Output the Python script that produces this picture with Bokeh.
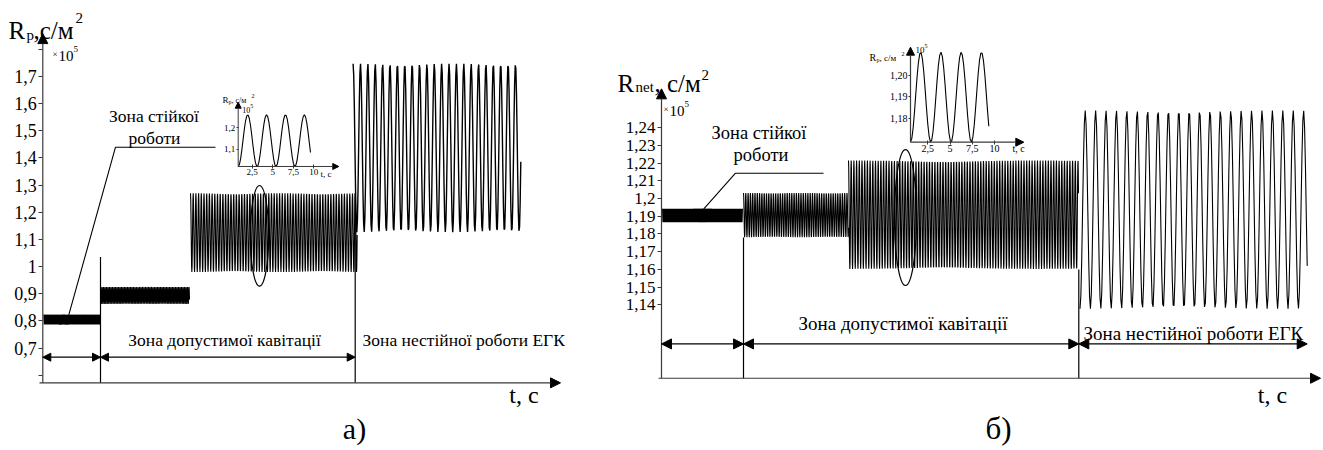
import numpy as np
from bokeh.plotting import figure
from bokeh.layouts import row
from bokeh.models import (Range1d, LinearAxis, FixedTicker, CustomJSTickFormatter,
                          Arrow, NormalHead)
from bokeh.core.properties import value
from bokeh.embed import file_html
from bokeh.resources import INLINE

FONT = "Liberation Serif"
AX = "#3a3a3a"

# ================= panel а) : R_p(t), x10^5 c/m^2 =================
A_YTICKS = [0.6, 0.7, 0.8, 0.9, 1.0, 1.1, 1.2, 1.3, 1.4, 1.5, 1.6, 1.7, 1.8]
A_YLABELS = ["", "0,7", "0,8", "0,9", "1", "1,1", "1,2", "1,3", "1,4", "1,5", "1,6", "1,7", ""]
A_AXIS_V = 0.572          # level of the time axis
A_T_MAX = 51.77           # end of time axis
A_V_MAX = 1.858           # top of R axis
A_BAND_T0 = [0.1, 5.77, 14.77, 31.03]
A_BAND_T1 = [5.77, 14.67, 31.44, 47.8]
A_BAND_MEAN = [0.805, 0.894, 1.125, 1.437]
A_BAND_AMP = [0.018, 0.031, 0.145, 0.31]
A_BAND_PERIOD = [0.1, 0.15, 0.27, 0.738]
A_BAND_PHASE = [0.0, 0.0, 0.0, 0.0]
A_BAND_LW = [1.1, 1.1, 1.1, 1.4]
A_ZONE_EDGES = [0.0, 5.77, 31.24]
A_ZONE_ARROW_V = 0.6665
A_SEP_T = [5.77, 31.24]
A_SEP_TOP = [1.035, 1.27]
A_ELLIPSE = dict(t=21.67, v=1.1134, w=1.83, h=0.371)
# inset of panel а)
AI_XTICKS = [2.5, 5.0, 7.5, 10.0]
AI_XLABELS = ["2,5", "5", "7,5", "10"]
AI_YTICKS = [1.1, 1.2]
AI_YLABELS = ["1,1", "1,2"]
AI_T0, AI_T1 = 0.8, 9.6
AI_MEAN, AI_AMP, AI_PERIOD = 1.14, 0.121, 2.3
AI_AXIS_T, AI_AXIS_V, AI_T_MAX, AI_V_MAX = 0.7955, 1.0192, 13.04, 1.3196

# ================= panel б) : R_net(t), x10^5 c/m^2 =================
B_YTICKS = [1.14, 1.15, 1.16, 1.17, 1.18, 1.19, 1.20, 1.21, 1.22, 1.23, 1.24]
B_YLABELS = ["1,14", "1,15", "1,16", "1,17", "1,18", "1,19", "1,2", "1,21", "1,22", "1,23", "1,24"]
B_AXIS_V = 1.0985
B_T_MAX = 65.9
B_V_MAX = 1.262
B_BAND_T0 = [0.1, 8.2, 18.7, 41.85]
B_BAND_T1 = [8.1, 18.7, 41.7, 64.57]
B_BAND_MEAN = [1.1905, 1.1907, 1.1909, 1.1938]
B_BAND_AMP = [0.0038, 0.0125, 0.0306, 0.056]
B_BAND_PERIOD = [0.1, 0.23, 0.27, 1.04]
B_BAND_PHASE = [0.0, 0.0, 0.0, 0.5]
B_BAND_LW = [1.1, 1.1, 1.1, 1.1]
B_ZONE_EDGES = [0.0, 8.2, 41.73, 64.57]
B_ZONE_ARROW_V = 1.1179
B_SEP_T = [8.2, 41.73]
B_SEP_TOP = [1.178, 1.160]
B_ELLIPSE = dict(t=24.4, v=1.1893, w=2.2, h=0.0768)
# inset of panel б)
BI_XTICKS = [2.5, 5.0, 7.5, 10.0]
BI_XLABELS = ["2,5", "5", "7,5", "10"]
BI_YTICKS = [1.18, 1.19, 1.20]
BI_YLABELS = ["1,18", "1,19", "1,20"]
BI_T0, BI_T1 = 0.5546, 9.36
BI_MEAN, BI_AMP, BI_PERIOD = 1.18985, 0.02105, 2.28
BI_AXIS_T, BI_AXIS_V, BI_T_MAX, BI_V_MAX = 0.5546, 1.16876, 13.295, 1.21326

ZONE_STABLE = ["Зона стійкої", "роботи"]
ZONE_CAV = "Зона допустимої кавітації"
ZONE_UNST = "Зона нестійної роботи ЕГК"


def wave(t0, t1, mean, amp, period, phase):
    n = max(int((t1 - t0) / period * 12), 60)
    t = np.linspace(t0, t1, n)
    return t, mean + amp * np.cos(2 * np.pi * ((t - t0) / period + phase))


def fmt(tick_values, tick_labels):
    return CustomJSTickFormatter(args=dict(tv=tick_values, tl=tick_labels), code="""
        for (let i = 0; i < tv.length; i++) {
            if (Math.abs(tv[i] - tick) < 1e-9) { return tl[i]; }
        }
        return "";
    """)


def make_fig(width, xr, yr, ixr, iyr):
    p = figure(width=width, height=450, x_range=Range1d(*xr), y_range=Range1d(*yr),
               x_axis_type=None, y_axis_type=None, toolbar_location=None,
               output_backend="svg", min_border=0, outline_line_color=None,
               background_fill_color="white", border_fill_color="white")
    p.extra_x_ranges = {"ix": Range1d(*ixr)}
    p.extra_y_ranges = {"iy": Range1d(*iyr)}
    return p


def add_text(p, x, y, s, size, align="left", baseline="alphabetic", xo=0, yo=0, inset=False):
    rn = ("ix", "iy") if inset else ("default", "default")
    p.text(x=[x], y=[y], text=[s], x_offset=xo, y_offset=yo, text_font=value(FONT),
           text_font_size=value(f"{size}px"), text_align=align, text_baseline=baseline,
           text_color="black", x_range_name=rn[0], y_range_name=rn[1])


def add_arrow(p, x0, y0, x1, y1, size, both=False, color=AX, width=1.2, inset=False):
    rn = ("ix", "iy") if inset else ("default", "default")

    def head():
        return NormalHead(size=size, fill_color="black", line_color="black", line_width=1)
    p.add_layout(Arrow(x_start=x0, y_start=y0, x_end=x1, y_end=y1, end=head(),
                       start=head() if both else None, line_color=color, line_width=width,
                       x_range_name=rn[0], y_range_name=rn[1]))


def add_axis(p, side, loc, ticks, labels, size, inset=False, t_out=4, t_in=0, standoff=2):
    rn = ("ix", "iy") if inset else ("default", "default")
    ax = LinearAxis(fixed_location=loc, ticker=FixedTicker(ticks=ticks), formatter=fmt(ticks, labels),
                    axis_line_color=None, major_tick_line_color=AX, major_tick_out=t_out,
                    major_tick_in=t_in, minor_tick_line_color=None, major_label_text_font=FONT,
                    major_label_text_font_size=f"{size}px", major_label_standoff=standoff,
                    major_label_text_color="black", x_range_name=rn[0], y_range_name=rn[1])
    p.add_layout(ax, side)


def draw_bands(p, t0s, t1s, means, amps, periods, phases, lws):
    for t0, t1, m, a, per, ph, lw in zip(t0s, t1s, means, amps, periods, phases, lws):
        t, v = wave(t0, t1, m, a, per, ph)
        p.line(t, v, line_color="black", line_width=lw)


# ---------------- panel а) ----------------
pa = make_fig(600, (-4.23, 55.77), (0.32298, 1.97982), (-28.145, 44.907), (-0.30794, 1.79486))
draw_bands(pa, A_BAND_T0, A_BAND_T1, A_BAND_MEAN, A_BAND_AMP, A_BAND_PERIOD, A_BAND_PHASE, A_BAND_LW)
add_axis(pa, "left", 0.0, A_YTICKS, A_YLABELS, 18)
add_arrow(pa, 0.0, A_AXIS_V, 0.0, A_V_MAX, 10)
add_arrow(pa, -0.33, A_AXIS_V, A_T_MAX, A_AXIS_V, 10)
pa.segment(x0=A_SEP_T, y0=[A_AXIS_V] * len(A_SEP_T), x1=A_SEP_T, y1=A_SEP_TOP,
           line_color="black", line_width=1.2)
for a, b in zip(A_ZONE_EDGES[:-1], A_ZONE_EDGES[1:]):
    add_arrow(pa, a, A_ZONE_ARROW_V, b, A_ZONE_ARROW_V, 8, both=True, color="black", width=1.2)
pa.ellipse(x=[A_ELLIPSE["t"]], y=[A_ELLIPSE["v"]], width=[A_ELLIPSE["w"]], height=[A_ELLIPSE["h"]],
           fill_color=None, line_color="black", line_width=1.2)
pa.line([17.27, 7.27, 2.6], [1.4397, 1.4397, 0.822], line_color="black", line_width=1.1)
add_text(pa, 11.12, 1.5564, ZONE_STABLE[0], 17.5, "center", "middle")
add_text(pa, 11.17, 1.4754, ZONE_STABLE[1], 17.5, "center", "middle")
add_text(pa, 18.17, 0.728, ZONE_CAV, 17.5, "center", "middle")
add_text(pa, 31.97, 0.728, ZONE_UNST, 17.5, "left", "middle")
add_text(pa, 48.12, 0.5255, "t, с", 24, "center", "middle")
add_text(pa, 31.17, 0.405, "а)", 30, "center", "middle")
# axis title R_p, c/m^2
add_text(pa, -3.43, 1.8694, "R", 25)
add_text(pa, -3.43, 1.8694, "p", 15, xo=18, yo=5)
add_text(pa, -3.43, 1.8694, ",с/м", 25, xo=25)
add_text(pa, -3.43, 1.8694, "2", 15, xo=67, yo=-12)
add_text(pa, 0.97, 1.7773, "×", 9, xo=0, yo=-2)
add_text(pa, 0.97, 1.7773, "10", 15, xo=6)
add_text(pa, 0.97, 1.7773, "5", 9, xo=21, yo=-7)
# inset а)
t, v = wave(AI_T0, AI_T1, AI_MEAN, AI_AMP, AI_PERIOD, 0.5)
pa.line(t, v, line_color="black", line_width=1.1, x_range_name="ix", y_range_name="iy")
add_axis(pa, "left", AI_AXIS_T, AI_YTICKS, AI_YLABELS, 9, inset=True, t_out=2, t_in=0, standoff=1)
add_axis(pa, "below", AI_AXIS_V, AI_XTICKS, AI_XLABELS, 9, inset=True, t_out=2, t_in=2, standoff=1)
add_arrow(pa, AI_AXIS_T, AI_AXIS_V, AI_AXIS_T, AI_V_MAX, 6, width=1.0, inset=True)
add_arrow(pa, AI_AXIS_T, AI_AXIS_V, AI_T_MAX, AI_AXIS_V, 6, width=1.0, inset=True)
add_text(pa, -1.116, 1.3276, "R", 9, inset=True)
add_text(pa, -1.116, 1.3276, "p", 6, xo=6, yo=2, inset=True)
add_text(pa, -1.116, 1.3276, ", с/м", 8, xo=9, inset=True)
add_text(pa, -1.116, 1.3276, "2", 6, xo=29, yo=-4, inset=True)
add_text(pa, 1.2825, 1.2855, "10", 8, inset=True)
add_text(pa, 1.2825, 1.2855, "5", 6, xo=8, yo=-4, inset=True)
add_text(pa, 10.816, 0.9864, "t, с", 9, "left", "middle", inset=True)

# ---------------- panel б) ----------------
pb = make_fig(723, (-6.1, 66.2), (1.05768, 1.31192), (-34.304, 46.996), (1.024356, 1.235129))
draw_bands(pb, B_BAND_T0, B_BAND_T1, B_BAND_MEAN, B_BAND_AMP, B_BAND_PERIOD, B_BAND_PHASE, B_BAND_LW)
add_axis(pb, "left", 0.0, B_YTICKS, B_YLABELS, 17)
add_arrow(pb, 0.0, B_AXIS_V, 0.0, B_V_MAX, 10)
add_arrow(pb, -0.3, B_AXIS_V, B_T_MAX, B_AXIS_V, 10)
pb.segment(x0=B_SEP_T, y0=[B_AXIS_V] * len(B_SEP_T), x1=B_SEP_T, y1=B_SEP_TOP,
           line_color="black", line_width=1.2)
for a, b in zip(B_ZONE_EDGES[:-1], B_ZONE_EDGES[1:]):
    add_arrow(pb, a, B_ZONE_ARROW_V, b, B_ZONE_ARROW_V, 10, both=True, color="black", width=1.3)
pb.ellipse(x=[B_ELLIPSE["t"]], y=[B_ELLIPSE["v"]], width=[B_ELLIPSE["w"]], height=[B_ELLIPSE["h"]],
           fill_color=None, line_color="black", line_width=1.2)
pb.line([16.2, 7.4, 4.23], [1.21435, 1.21435, 1.1942], line_color="black", line_width=1.1)
add_text(pb, 9.75, 1.23678, ZONE_STABLE[0], 18.5, "center", "middle")
add_text(pb, 9.95, 1.22435, ZONE_STABLE[1], 18.5, "center", "middle")
add_text(pb, 24.15, 1.12915, ZONE_CAV, 19, "center", "middle")
add_text(pb, 42.2, 1.12379, ZONE_UNST, 19, "left", "middle")
add_text(pb, 61.1, 1.08876, "t, с", 24, "center", "middle")
add_text(pb, 33.7, 1.0701, "б)", 31, "center", "middle")
add_text(pb, -4.4, 1.26486, "R", 25)
add_text(pb, -4.4, 1.26486, "net", 15, xo=18, yo=3)
add_text(pb, -4.4, 1.26486, ", с/м", 25, xo=37)
add_text(pb, -4.4, 1.26486, "2", 15, xo=84, yo=-9)
add_text(pb, 0.2, 1.24977, "×", 9, xo=0, yo=-2)
add_text(pb, 0.2, 1.24977, "10", 15, xo=6)
add_text(pb, 0.2, 1.24977, "5", 9, xo=21, yo=-7)
# inset б)
t, v = wave(BI_T0, BI_T1, BI_MEAN, BI_AMP, BI_PERIOD, 0.5)
pb.line(t, v, line_color="black", line_width=1.1, x_range_name="ix", y_range_name="iy")
add_axis(pb, "left", BI_AXIS_T, BI_YTICKS, BI_YLABELS, 10, inset=True, t_out=2, t_in=0, standoff=1)
add_axis(pb, "below", BI_AXIS_V, BI_XTICKS, BI_XLABELS, 10, inset=True, t_out=2, t_in=2, standoff=1)
add_arrow(pb, BI_AXIS_T, BI_AXIS_V, BI_AXIS_T, BI_V_MAX, 8, width=1.2, inset=True)
add_arrow(pb, BI_AXIS_T, BI_AXIS_V, BI_T_MAX, BI_AXIS_V, 8, width=1.2, inset=True)
add_text(pb, -4.056, 1.20843, "R", 10, inset=True)
add_text(pb, -4.056, 1.20843, "p", 6, xo=7, yo=2, inset=True)
add_text(pb, -4.056, 1.20843, ", с/м", 9, xo=10, inset=True)
add_text(pb, -4.056, 1.20843, "2", 6, xo=32, yo=-4, inset=True)
add_text(pb, 1.117, 1.21171, "10", 9, inset=True)
add_text(pb, 1.117, 1.21171, "5", 6, xo=9, yo=-4, inset=True)
add_text(pb, 12.024, 1.16581, "t, с", 10, "left", "middle", inset=True)

layout = row(pa, pb)
open("out.html", "w").write(file_html(layout, INLINE))
